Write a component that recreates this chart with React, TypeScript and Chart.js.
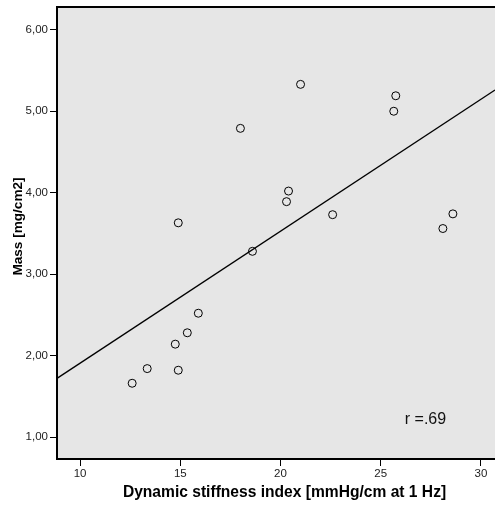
import React, { useEffect, useRef } from "react";
import { Chart, registerables } from "chart.js";

Chart.register(...registerables);

// Data
const stiffness = [12.6, 13.35, 14.75, 14.9, 15.35, 15.9, 14.9, 18.0, 21.0, 18.6, 20.4, 20.3, 22.6, 25.75, 25.65, 28.1, 28.6];
const mass = [1.66, 1.84, 2.14, 1.82, 2.28, 2.52, 3.63, 4.79, 5.33, 3.28, 4.02, 3.89, 3.73, 5.19, 5.0, 3.56, 3.74];
const fitX = [8.85, 30.7];
const fitY = [1.72, 5.26];
const xTicks = [10, 15, 20, 25, 30];
const yTicks = [1, 2, 3, 4, 5, 6];
const xRange = [8.85, 30.7];
const yRange = [0.73, 6.28];
const annotation = { text: "r =.69", x: 26.2, y: 1.21 };
const xTitle = "Dynamic stiffness index [mmHg/cm at 1 Hz]";
const yTitle = "Mass [mg/cm2]";

const FONT = "'Liberation Sans', Arial, sans-serif";

const framePlugin = {
  id: "frame",
  beforeDraw(chart: any) {
    const { ctx, chartArea } = chart;
    ctx.save();
    ctx.fillStyle = "#e6e6e6";
    ctx.fillRect(chartArea.left, chartArea.top, chartArea.right - chartArea.left, chartArea.bottom - chartArea.top);
    ctx.restore();
  },
  afterDraw(chart: any) {
    const { ctx, chartArea, scales } = chart;
    ctx.save();
    ctx.strokeStyle = "#000";
    ctx.lineWidth = 2;
    ctx.beginPath();
    ctx.moveTo(chartArea.left - 1, chartArea.top);
    ctx.lineTo(chartArea.right, chartArea.top);
    ctx.stroke();
    ctx.fillStyle = "#111";
    ctx.font = `16px ${FONT}`;
    ctx.textAlign = "left";
    ctx.textBaseline = "middle";
    ctx.fillText(annotation.text, scales.x.getPixelForValue(annotation.x), scales.y.getPixelForValue(annotation.y));

    // axis titles
    ctx.fillStyle = "#000";
    ctx.textAlign = "center";
    ctx.font = `bold 15.6px ${FONT}`;
    ctx.fillText(xTitle, scales.x.getPixelForValue(20) + 4, chartArea.bottom + 34);
    ctx.save();
    ctx.translate(18, (chartArea.top + chartArea.bottom) / 2 - 6.5);
    ctx.rotate(-Math.PI / 2);
    ctx.font = `bold 13.6px ${FONT}`;
    ctx.fillText(yTitle, 0, 0);
    ctx.restore();
    ctx.restore();
  },
};

export default function App() {
  const ref = useRef<HTMLCanvasElement>(null);
  useEffect(() => {
    if (!ref.current) return;
    const chart = new Chart(ref.current, {
      type: "scatter",
      data: {
        datasets: [
          {
            label: "points",
            data: stiffness.map((x, i) => ({ x, y: mass[i] })),
            pointRadius: 4,
            pointBorderWidth: 1,
            pointBorderColor: "#000",
            pointBackgroundColor: "rgba(0,0,0,0)",
            borderColor: "#000",
            backgroundColor: "rgba(0,0,0,0)",
          },
          {
            label: "fit",
            data: fitX.map((x, i) => ({ x, y: fitY[i] })),
            showLine: true,
            pointRadius: 0,
            borderColor: "#000",
            borderWidth: 1.3,
          },
        ],
      },
      options: {
        animation: false,
        responsive: false,
        devicePixelRatio: 1,
        layout: { padding: { top: 7, right: 0, left: 0, bottom: 0 } },
        plugins: { legend: { display: false }, tooltip: { enabled: false } },
        scales: {
          x: {
            type: "linear",
            min: xRange[0],
            max: xRange[1],
            afterFit: (s: any) => { s.height = 47; s.paddingLeft = 0; s.paddingRight = 0; },
            afterBuildTicks: (s: any) => { s.ticks = xTicks.map((v) => ({ value: v })); },
            border: { color: "#000", width: 2 },
            grid: { drawOnChartArea: false, drawTicks: true, tickLength: 7, tickColor: "#000", tickWidth: 1 },
            ticks: { color: "#222", font: { family: FONT, size: 11.5 }, padding: 1, maxRotation: 0, callback: (v: any) => String(v) },
            title: { display: false },
          },
          y: {
            type: "linear",
            min: yRange[0],
            max: yRange[1],
            afterFit: (s: any) => { s.width = 57; s.paddingTop = 0; s.paddingBottom = 0; },
            afterBuildTicks: (s: any) => { s.ticks = yTicks.map((v) => ({ value: v })); },
            border: { color: "#000", width: 2 },
            grid: { drawOnChartArea: false, drawTicks: true, tickLength: 7, tickColor: "#000", tickWidth: 1 },
            ticks: { color: "#222", font: { family: FONT, size: 11.5 }, padding: 2, callback: (v: any) => Number(v).toFixed(2).replace(".", ",") },
            title: { display: false },
          },
        },
      },
      plugins: [framePlugin],
    } as any);
    return () => chart.destroy();
  }, []);
  return (
    <div style={{ position: "absolute", left: 0, top: 0, width: 495, height: 506, overflow: "hidden", background: "#fff" }}>
      <canvas ref={ref} width={500} height={506} />
    </div>
  );
}
